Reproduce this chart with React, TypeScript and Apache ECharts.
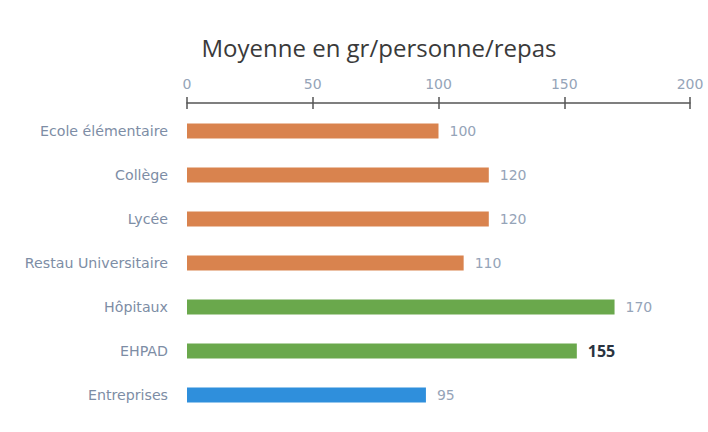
import React, { useEffect, useRef } from "react";
import * as echarts from "echarts";

const categories = ["Ecole élémentaire", "Collège", "Lycée", "Restau Universitaire", "Hôpitaux", "EHPAD", "Entreprises"];
const values = [100, 120, 120, 110, 170, 155, 95];
const barColors = ["#d9834e", "#d9834e", "#d9834e", "#d9834e", "#6aa84c", "#6aa84c", "#2f8fdc"];
const boldIndex = 5;
const axisTicks = [0, 50, 100, 150, 200];

export default function App() {
  const ref = useRef<HTMLDivElement>(null);
  useEffect(() => {
    const chart = echarts.init(ref.current!, null, { renderer: "svg" });
    const baseAxis = {
      type: "value",
      position: "top",
      offset: 6,
      min: axisTicks[0],
      max: axisTicks[axisTicks.length - 1],
      interval: 50,
      splitLine: { show: false },
    };
    chart.setOption({
      animation: false,
      backgroundColor: "#ffffff",
      title: {
        text: "Moyenne en gr/personne/repas",
        left: 374,
        textAlign: "center",
        top: 30,
        textStyle: { fontFamily: "Open Sans", fontSize: 24, fontWeight: "normal", color: "#3a3a3a" },
      },
      grid: { left: 187, right: 18, top: 109, bottom: 15, containLabel: false },
      xAxis: [
        {
          ...baseAxis,
          axisLine: { show: true, lineStyle: { color: "#555", width: 1.5 } },
          axisTick: { show: true, length: 6, lineStyle: { color: "#555", width: 1.5 } },
          axisLabel: { color: "#95a4b8", fontFamily: "DejaVu Sans", fontSize: 14, margin: 12 },
        },
        {
          ...baseAxis,
          axisLine: { show: false },
          axisTick: { show: true, inside: true, length: 6, lineStyle: { color: "#555", width: 1.5 } },
          axisLabel: { show: false },
        },
      ],
      yAxis: {
        type: "category",
        inverse: true,
        data: categories,
        axisLine: { show: false },
        axisTick: { show: false },
        axisLabel: { color: "#7d8da5", fontFamily: "DejaVu Sans", fontSize: 14.2, margin: 19 },
      },
      series: [
        {
          type: "bar",
          barWidth: 15,
          xAxisIndex: 0,
          data: values.map((v, i) => ({
            value: v,
            itemStyle: { color: barColors[i] },
            label: i === boldIndex
              ? { color: "#2a3340", fontWeight: "bold", fontFamily: "Open Sans", fontSize: 16 }
              : undefined,
          })),
          label: {
            show: true,
            position: "right",
            distance: 11,
            color: "#95a4b8",
            fontFamily: "DejaVu Sans",
            fontSize: 14,
          },
        },
      ],
    });
    return () => chart.dispose();
  }, []);
  return <div ref={ref} style={{ width: 708, height: 432, position: "absolute", left: 0, top: 0 }} />;
}
